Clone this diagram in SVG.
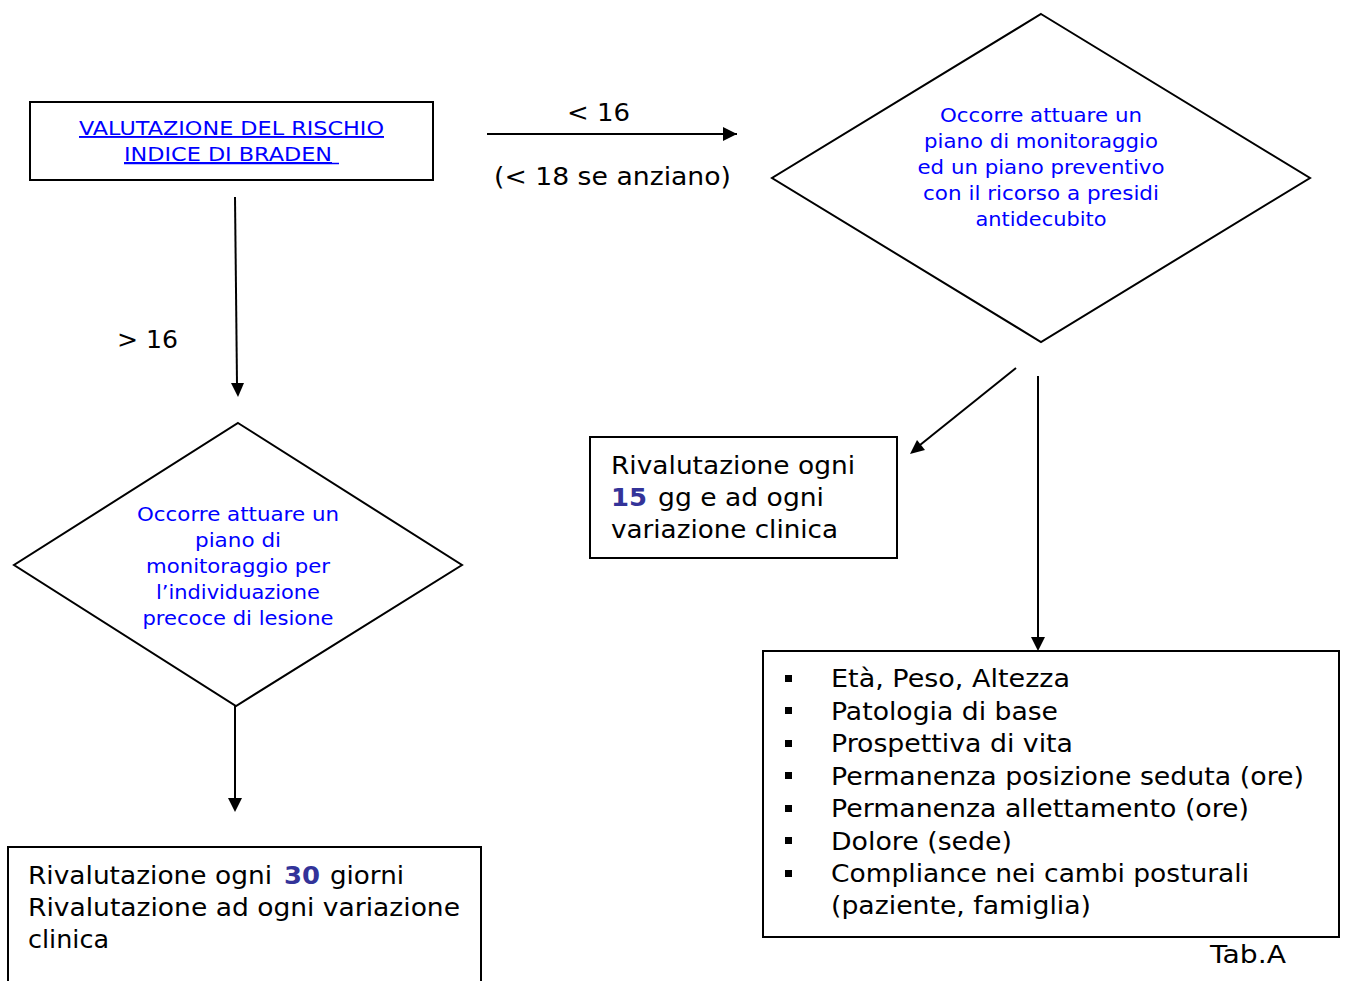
<svg xmlns="http://www.w3.org/2000/svg" width="1345" height="981" viewBox="0 0 1345 981">
<style>
text{font-family:"DejaVu Sans","Liberation Sans",sans-serif;}
.box{fill:#fff;stroke:#000;stroke-width:2;}
.dia{fill:#fff;stroke:#000;stroke-width:2;}
.blue{fill:#0000ff;font-size:19px;}
.bt{fill:#0000ff;font-size:19px;text-anchor:middle;}
.t{fill:#000;font-size:24px;}
.num{fill:#333399;font-size:24px;font-weight:bold;}
.ln{stroke:#000;stroke-width:2;fill:none;marker-end:url(#ah);}
</style>
<defs>
<marker id="ah" markerWidth="10" markerHeight="10" refX="9" refY="5" orient="auto" markerUnits="userSpaceOnUse" viewBox="0 0 10 10">
<path d="M0,0 L10,5 L0,10 z" fill="#000"/>
</marker>
</defs>
<rect width="1345" height="981" fill="#fff"/>
<g id="connectors">
<line class="ln" x1="487" y1="134" x2="737" y2="134" style="marker-end:none"/>
<path d="M723,127 L737,134 L723,141 z" fill="#000"/>
<line x1="235" y1="197" x2="237" y2="384" stroke="#000" stroke-width="2"/>
<path d="M231,383 L238,397 L244,383 z" fill="#000"/>
<line x1="235" y1="690" x2="235" y2="799" stroke="#000" stroke-width="2"/>
<path d="M228,798 L235,812 L242,798 z" fill="#000"/>
<line x1="1016" y1="368" x2="920" y2="445" stroke="#000" stroke-width="2"/>
<path d="M910,454 L917,440 L925,450 z" fill="#000"/>
<line x1="1038" y1="376" x2="1038" y2="638" stroke="#000" stroke-width="2"/>
<path d="M1031,637 L1038,651 L1045,637 z" fill="#000"/>
<text class="t" x="567" y="121" textLength="63" lengthAdjust="spacingAndGlyphs">&lt; 16</text>
<text class="t" x="494" y="185" textLength="237" lengthAdjust="spacingAndGlyphs">(&lt; 18 se anziano)</text>
<text class="t" x="117" y="348" textLength="61" lengthAdjust="spacingAndGlyphs">&gt; 16</text>
</g>
<g id="node-valutazione">
<rect class="box" x="30" y="102" width="403" height="78"/>
<text class="blue" x="79" y="135" textLength="305" lengthAdjust="spacingAndGlyphs" text-decoration="underline">VALUTAZIONE DEL RISCHIO</text>
<text class="blue" x="124" y="161" textLength="208" lengthAdjust="spacingAndGlyphs" text-decoration="underline">INDICE DI BRADEN</text>
<line x1="124" y1="163.5" x2="339" y2="163.5" stroke="#0000ff" stroke-width="1.5"/>
</g>
<g id="node-diamond-right">
<polygon class="dia" points="1041,14 1310,178 1041,342 772,178"/>
<text class="bt" x="1041" y="122" textLength="202" lengthAdjust="spacingAndGlyphs">Occorre attuare un</text>
<text class="bt" x="1041" y="148" textLength="234" lengthAdjust="spacingAndGlyphs">piano di monitoraggio</text>
<text class="bt" x="1041" y="174" textLength="247" lengthAdjust="spacingAndGlyphs">ed un piano preventivo</text>
<text class="bt" x="1041" y="200" textLength="236" lengthAdjust="spacingAndGlyphs">con il ricorso a presidi</text>
<text class="bt" x="1041" y="226" textLength="131" lengthAdjust="spacingAndGlyphs">antidecubito</text>
</g>
<g id="node-diamond-left">
<polygon class="dia" points="238,423 462,565 236,706 14,565"/>
<text class="bt" x="238" y="521" textLength="202" lengthAdjust="spacingAndGlyphs">Occorre attuare un</text>
<text class="bt" x="238" y="547" textLength="86" lengthAdjust="spacingAndGlyphs">piano di</text>
<text class="bt" x="238" y="573" textLength="184" lengthAdjust="spacingAndGlyphs">monitoraggio per</text>
<text class="bt" x="238" y="599" textLength="164" lengthAdjust="spacingAndGlyphs">l’individuazione</text>
<text class="bt" x="238" y="625" textLength="191" lengthAdjust="spacingAndGlyphs">precoce di lesione</text>
</g>
<g id="node-15gg">
<rect class="box" x="590" y="437" width="307" height="121"/>
<text class="t" x="611" y="474" textLength="244" lengthAdjust="spacingAndGlyphs">Rivalutazione ogni</text>
<text class="num" x="611" y="506" textLength="36" lengthAdjust="spacingAndGlyphs">15</text>
<text class="t" x="658" y="506" textLength="166" lengthAdjust="spacingAndGlyphs">gg e ad ogni</text>
<text class="t" x="611" y="538" textLength="227" lengthAdjust="spacingAndGlyphs">variazione clinica</text>
</g>
<g id="node-list">
<rect class="box" x="763" y="651" width="576" height="286"/>
<g fill="#000">
<rect x="785" y="675" width="7" height="7"/>
<rect x="785" y="707" width="7" height="7"/>
<rect x="785" y="740" width="7" height="7"/>
<rect x="785" y="772" width="7" height="7"/>
<rect x="785" y="805" width="7" height="7"/>
<rect x="785" y="837" width="7" height="7"/>
<rect x="785" y="870" width="7" height="7"/>
</g>
<text class="t" x="831" y="687" textLength="239" lengthAdjust="spacingAndGlyphs">Età, Peso, Altezza</text>
<text class="t" x="831" y="720" textLength="227" lengthAdjust="spacingAndGlyphs">Patologia di base</text>
<text class="t" x="831" y="752" textLength="242" lengthAdjust="spacingAndGlyphs">Prospettiva di vita</text>
<text class="t" x="831" y="785" textLength="473" lengthAdjust="spacingAndGlyphs">Permanenza posizione seduta (ore)</text>
<text class="t" x="831" y="817" textLength="418" lengthAdjust="spacingAndGlyphs">Permanenza allettamento (ore)</text>
<text class="t" x="831" y="850" textLength="181" lengthAdjust="spacingAndGlyphs">Dolore (sede)</text>
<text class="t" x="831" y="882" textLength="418" lengthAdjust="spacingAndGlyphs">Compliance nei cambi posturali</text>
<text class="t" x="831" y="914" textLength="260" lengthAdjust="spacingAndGlyphs">(paziente, famiglia)</text>
</g>
<g id="node-30giorni">
<path class="box" d="M8,985 L8,847 L481,847 L481,985"/>
<text class="t" x="28" y="884" textLength="244" lengthAdjust="spacingAndGlyphs">Rivalutazione ogni</text>
<text class="num" x="284" y="884" textLength="36" lengthAdjust="spacingAndGlyphs">30</text>
<text class="t" x="330" y="884" textLength="74" lengthAdjust="spacingAndGlyphs">giorni</text>
<text class="t" x="28" y="916" textLength="432" lengthAdjust="spacingAndGlyphs">Rivalutazione ad ogni variazione</text>
<text class="t" x="28" y="948" textLength="81" lengthAdjust="spacingAndGlyphs">clinica</text>
</g>
<g id="caption">
<text class="t" x="1210" y="963" textLength="76" lengthAdjust="spacingAndGlyphs">Tab.A</text>
</g>
</svg>
